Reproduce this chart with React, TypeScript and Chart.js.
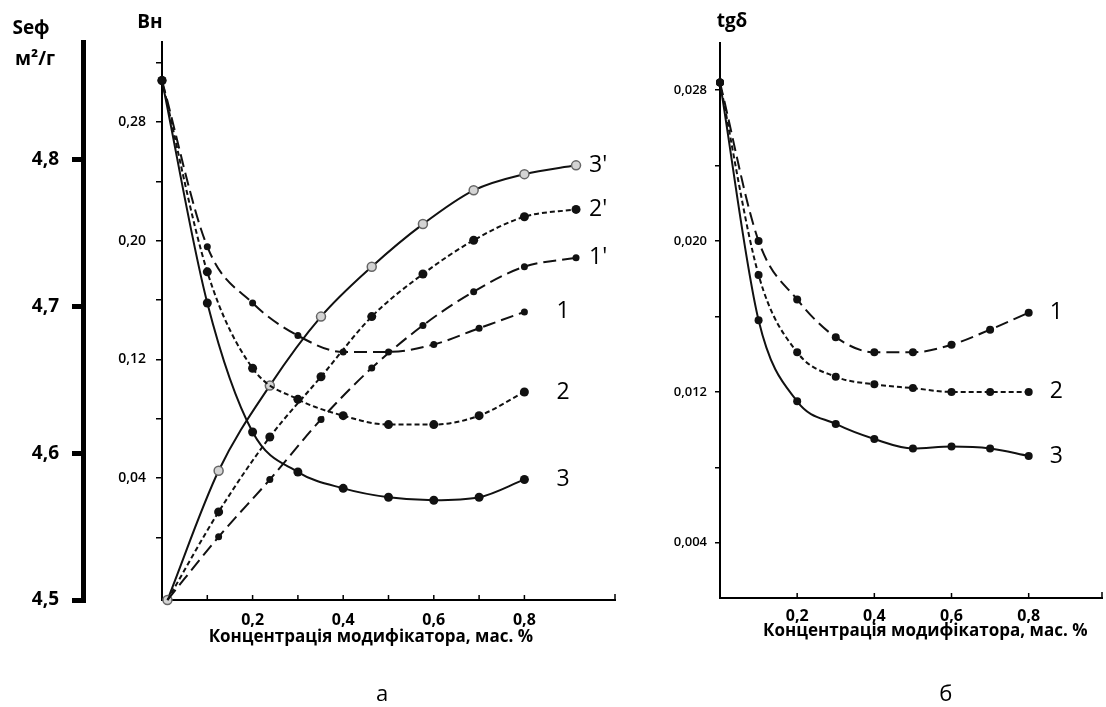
import React, { useEffect, useRef } from 'react';
import { Chart, registerables } from 'chart.js';

Chart.register(...registerables);

// ---------- DATA: chart "а" ----------
const concA = [0, 0.1, 0.2, 0.3, 0.4, 0.5, 0.6, 0.7, 0.8];
const concAPrime = [0.012, 0.125, 0.238, 0.351, 0.463, 0.576, 0.688, 0.8, 0.914];
const bn1 = [0.308, 0.196, 0.158, 0.136, 0.125, 0.125, 0.13, 0.141, 0.152];
const bn2 = [0.308, 0.179, 0.114, 0.093, 0.082, 0.076, 0.076, 0.082, 0.098];
const bn3 = [0.308, 0.158, 0.071, 0.044, 0.033, 0.027, 0.025, 0.027, 0.039];
const sef1 = [4.5, 4.543, 4.582, 4.623, 4.658, 4.687, 4.71, 4.727, 4.733];
const sef2 = [4.5, 4.56, 4.611, 4.652, 4.693, 4.722, 4.745, 4.761, 4.766];
const sef3 = [4.5, 4.588, 4.646, 4.693, 4.727, 4.756, 4.779, 4.79, 4.796];
const curveLabelsA = ['1', '2', '3', "1'", "2'", "3'"];

// ---------- DATA: chart "б" ----------
const concB = [0, 0.1, 0.2, 0.3, 0.4, 0.5, 0.6, 0.7, 0.8];
const tg1 = [0.0284, 0.02, 0.0169, 0.0149, 0.0141, 0.0141, 0.0145, 0.0153, 0.0162];
const tg2 = [0.0284, 0.0182, 0.0141, 0.0128, 0.0124, 0.0122, 0.012, 0.012, 0.012];
const tg3 = [0.0284, 0.0158, 0.0115, 0.0103, 0.0095, 0.009, 0.0091, 0.009, 0.0086];
const curveLabelsB = ['1', '2', '3'];

// ---------- TICKS ----------
const xTicksA = [0.1, 0.2, 0.3, 0.4, 0.5, 0.6, 0.7, 0.8];
const xLabelsA = [0.2, 0.4, 0.6, 0.8];
const bnTicks = [0, 0.04, 0.08, 0.12, 0.16, 0.2, 0.24, 0.28, 0.32];
const bnLabels = [0.04, 0.12, 0.2, 0.28];
const sefTicks = [4.5, 4.6, 4.7, 4.8];
const xTicksB = [0.2, 0.4, 0.6, 0.8];
const tgTicks = [0.004, 0.008, 0.012, 0.016, 0.02, 0.024, 0.028];
const tgLabels = [0.004, 0.012, 0.02, 0.028];

const X_TITLE = 'Концентрація модифікатора, мас. %';
const FONT = '"Open Sans", "Noto Sans", sans-serif';
const INK = '#111';

const has = (arr: number[], v: number) => arr.some((a) => Math.abs(a - v) < 1e-9);
const comma = (v: number, d: number) => v.toFixed(d).replace('.', ',');
const setTicks = (vals: number[]) => (scale: any) => {
  scale.ticks = vals.map((value) => ({ value }));
};

function series(label: string, xs: number[], ys: number[], axis: string, dash: number[], radius: number, extra: any = {}) {
  return {
    label,
    data: xs.map((x, i) => ({ x, y: ys[i] })),
    yAxisID: axis,
    borderColor: INK,
    borderWidth: 2,
    borderDash: dash,
    pointRadius: radius,
    pointBackgroundColor: INK,
    pointBorderColor: INK,
    pointBorderWidth: 0,
    cubicInterpolationMode: 'monotone',
    fill: false,
    clip: false,
    ...extra,
  };
}

function inwardTicks(ctx: CanvasRenderingContext2D, chart: any, vals: number[]) {
  const x = chart.scales.x;
  const b = chart.chartArea.bottom;
  ctx.strokeStyle = '#000';
  ctx.lineWidth = 1.5;
  ctx.setLineDash([]);
  ctx.beginPath();
  vals.forEach((v) => {
    const px = x.getPixelForValue(v);
    ctx.moveTo(px, b);
    ctx.lineTo(px, b - 5);
  });
  ctx.moveTo(chart.chartArea.right, b);
  ctx.lineTo(chart.chartArea.right, b - 6);
  ctx.stroke();
}

function curveLabels(ctx: CanvasRenderingContext2D, chart: any, labels: string[], offsets: number[]) {
  ctx.font = `23px ${FONT}`;
  ctx.fillStyle = '#000';
  ctx.textAlign = 'left';
  ctx.textBaseline = 'middle';
  labels.forEach((t, i) => {
    const pts = chart.getDatasetMeta(i).data;
    const last = pts[pts.length - 1];
    ctx.fillText(t, last.x + offsets[i], last.y);
  });
}

const decorA = {
  id: 'decorA',
  afterDraw(chart: any) {
    const ctx = chart.ctx as CanvasRenderingContext2D;
    ctx.save();
    inwardTicks(ctx, chart, xTicksA);
    ctx.fillStyle = '#000';
    ctx.textAlign = 'center';
    ctx.textBaseline = 'middle';
    ctx.font = `bold 19px ${FONT}`;
    ctx.fillText('Seф', 31, 29);
    ctx.fillText('м²/г', 35, 60);
    ctx.fillText('Bн', 150, 23);
    curveLabels(ctx, chart, curveLabelsA, [32, 32, 32, 13, 13, 13]);
    const x = chart.scales.x;
    ctx.textAlign = 'center';
    ctx.font = `bold 17px ${FONT}`;
    ctx.fillText(X_TITLE, x.getPixelForValue(0.461), 637);
    ctx.font = `22px ${FONT}`;
    ctx.fillText('а', x.getPixelForValue(0.486), 695);
    ctx.restore();
  },
};

const decorB = {
  id: 'decorB',
  afterDraw(chart: any) {
    const ctx = chart.ctx as CanvasRenderingContext2D;
    ctx.save();
    inwardTicks(ctx, chart, xTicksB);
    ctx.fillStyle = '#000';
    ctx.textAlign = 'center';
    ctx.textBaseline = 'middle';
    ctx.font = `bold 19px ${FONT}`;
    ctx.fillText('tgδ', 92, 22);
    curveLabels(ctx, chart, curveLabelsB, [21, 21, 21]);
    const x = chart.scales.x;
    ctx.textAlign = 'center';
    ctx.font = `bold 17px ${FONT}`;
    ctx.fillText(X_TITLE, x.getPixelForValue(0.532), 631);
    ctx.font = `22px ${FONT}`;
    ctx.fillText('б', x.getPixelForValue(0.585), 695);
    ctx.restore();
  },
};

export default function App() {
  const leftRef = useRef<HTMLCanvasElement>(null);
  const rightRef = useRef<HTMLCanvasElement>(null);

  useEffect(() => {
    const common = {
      animation: false,
      responsive: false,
      devicePixelRatio: 1,
      plugins: { legend: { display: false }, tooltip: { enabled: false } },
      events: [],
    };

    const left = new Chart(leftRef.current as HTMLCanvasElement, {
      type: 'line',
      data: {
        datasets: [
          series('1', concA, bn1, 'yB', [13, 6], 3.5),
          series('2', concA, bn2, 'yB', [5, 3], 4.5),
          series('3', concA, bn3, 'yB', [], 4.5),
          series("1'", concAPrime, sef1, 'yS', [13, 6], 3.5, { pointRadius: (c: any) => (c.dataIndex === 0 ? 0 : 3.5) }),
          series("2'", concAPrime, sef2, 'yS', [5, 3], 4.5, { pointRadius: (c: any) => (c.dataIndex === 0 ? 0 : 4.5) }),
          series("3'", concAPrime, sef3, 'yS', [], 4.5, {
            pointBackgroundColor: '#d4d4d4',
            pointBorderColor: '#666',
            pointBorderWidth: 1.5,
          }),
        ],
      } as any,
      options: {
        ...common,
        layout: { padding: { top: 42, right: 25, left: 0, bottom: 0 } },
        scales: {
          x: {
            type: 'linear',
            position: 'bottom',
            min: 0,
            max: 1.0,
            afterBuildTicks: setTicks(xTicksA),
            afterFit: (s: any) => { s.height = 107; },
            grid: { drawOnChartArea: false, drawTicks: false },
            border: { color: '#000', width: 2 },
            ticks: {
              padding: 11,
              color: '#000',
              autoSkip: false,
              maxRotation: 0,
              font: { family: FONT, size: 16, weight: 'bold' },
              callback: (v: any) => (has(xLabelsA, Number(v)) ? comma(Number(v), 1) : ''),
            },
          },
          yB: {
            type: 'linear',
            position: 'left',
            weight: 0,
            min: -0.0423,
            max: 0.334,
            afterBuildTicks: setTicks(bnTicks),
            afterFit: (s: any) => { s.width = 79; },
            grid: { drawOnChartArea: false, tickLength: 6, color: '#000', lineWidth: 1.5 },
            border: { color: '#000', width: 2 },
            ticks: {
              padding: 10,
              color: '#000',
              autoSkip: false,
              font: { family: FONT, size: 14, weight: '600' },
              callback: (v: any) => (has(bnLabels, Number(v)) ? comma(Number(v), 2) : ''),
            },
          },
          yS: {
            type: 'linear',
            position: 'left',
            weight: 1,
            min: 4.5,
            max: 4.88,
            afterBuildTicks: setTicks(sefTicks),
            afterFit: (s: any) => { s.width = 83; },
            grid: { drawOnChartArea: false, tickLength: 11, color: '#000', lineWidth: 5 },
            border: { color: '#000', width: 5 },
            ticks: {
              padding: 13,
              color: '#000',
              autoSkip: false,
              font: { family: FONT, size: 19, weight: 'bold' },
              callback: (v: any) => comma(Number(v), 1),
            },
          },
        },
      } as any,
      plugins: [decorA],
    });

    const right = new Chart(rightRef.current as HTMLCanvasElement, {
      type: 'line',
      data: {
        datasets: [
          series('1', concB, tg1, 'y', [13, 6], 4),
          series('2', concB, tg2, 'y', [5, 3], 4),
          series('3', concB, tg3, 'y', [], 4),
        ],
      } as any,
      options: {
        ...common,
        layout: { padding: { top: 43, right: 4, left: 0, bottom: 0 } },
        scales: {
          x: {
            type: 'linear',
            position: 'bottom',
            min: 0,
            max: 0.99,
            afterBuildTicks: setTicks(xTicksB),
            afterFit: (s: any) => { s.height = 109; },
            grid: { drawOnChartArea: false, drawTicks: false },
            border: { color: '#000', width: 2 },
            ticks: {
              padding: 9,
              color: '#000',
              autoSkip: false,
              maxRotation: 0,
              font: { family: FONT, size: 16, weight: 'bold' },
              callback: (v: any) => comma(Number(v), 1),
            },
          },
          y: {
            type: 'linear',
            position: 'left',
            min: 0.00107,
            max: 0.0305,
            afterBuildTicks: setTicks(tgTicks),
            afterFit: (s: any) => { s.width = 80; },
            grid: { drawOnChartArea: false, tickLength: 5, color: '#000', lineWidth: 1.5 },
            border: { color: '#000', width: 2 },
            ticks: {
              padding: 8,
              color: '#000',
              autoSkip: false,
              font: { family: FONT, size: 13, weight: '600' },
              callback: (v: any) => (has(tgLabels, Number(v)) ? comma(Number(v), 3) : ''),
            },
          },
        },
      } as any,
      plugins: [decorB],
    });

    return () => {
      left.destroy();
      right.destroy();
    };
  }, []);

  return (
    <div style={{ position: 'absolute', left: 0, top: 0, width: 1106, height: 707, background: '#fff' }}>
      <canvas ref={leftRef} width={640} height={707} style={{ position: 'absolute', left: 0, top: 0, width: 640, height: 707 }} />
      <canvas ref={rightRef} width={466} height={707} style={{ position: 'absolute', left: 640, top: 0, width: 466, height: 707 }} />
    </div>
  );
}
